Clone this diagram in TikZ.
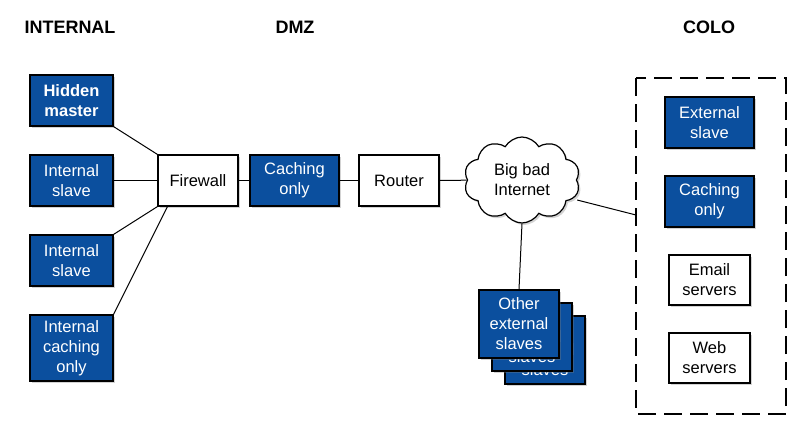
\documentclass[tikz,border=0pt]{standalone}
\usepackage{fontspec}
\setmainfont{Liberation Sans}
\usetikzlibrary{shapes.symbols,shadows}
\definecolor{dnsblue}{HTML}{0B4F9E}
\begin{document}
\begin{tikzpicture}[x=1pt,y=-1pt,
  every node/.style={font=\fontsize{16.5}{20}\selectfont,align=center,inner sep=0pt},
  box/.style={draw=black,line width=1.2pt,minimum width=#1,drop shadow={opacity=0.35,shadow xshift=2pt,shadow yshift=-2pt}},
  box/.default=83pt,
  blue/.style={box=#1,fill=dnsblue,text=white},
  blue/.default=83pt,
  white/.style={box=#1,fill=white,text=black},
  white/.default=80pt,
  head/.style={font=\fontsize{18}{21}\selectfont\bfseries},
  link/.style={line width=1pt}]
\useasboundingbox (0,0) rectangle (812,431);
\node[head] (h1) at (70,27) {INTERNAL};
\node[head] (h2) at (295,27) {DMZ};
\node[head] (h3) at (709,27) {COLO};

\node[blue,minimum height=51pt] (hm) at (71.5,100.5) {\bfseries Hidden\\\bfseries master};
\node[blue,minimum height=51pt] (is1) at (71.5,180.5) {Internal\\slave};
\node[blue,minimum height=51pt] (is2) at (71.5,260.5) {Internal\\slave};
\node[blue,minimum height=66pt] (ic) at (71.5,348) {Internal\\caching\\only};

\node[white,minimum height=51pt] (fw) at (198,180.5) {Firewall};
\node[blue=89pt,minimum height=51pt] (co) at (294.5,180.5) {Caching\\only};
\node[white,minimum height=51pt] (rt) at (399,180.5) {Router};
\node[cloud,cloud puffs=10,cloud puff arc=120,aspect=1.5,draw,line width=1.2pt,fill=white,
  minimum width=116pt,minimum height=86pt,drop shadow={opacity=0.35,shadow xshift=2pt,shadow yshift=-2pt}] (net) at (522,180) {Big bad\\Internet};

\node[blue,minimum width=80pt,minimum height=68pt] (o3) at (545,350) {Other\\external\\slaves};
\node[blue,minimum width=80pt,minimum height=68pt] (o2) at (532,337) {Other\\external\\slaves};
\node[blue,minimum width=80pt,minimum height=68pt] (o1) at (519,324) {Other\\external\\slaves};

\draw[line width=1.2pt,dash pattern=on 18pt off 8pt] (636,78) rectangle (786,414);
\coordinate (colo) at (636,215);
\node[blue=89pt,minimum height=51pt] (es) at (709.5,122.5) {External\\slave};
\node[blue=89pt,minimum height=51pt] (cc) at (709.5,201.5) {Caching\\only};
\node[white=81pt,minimum height=50pt] (em) at (709.5,280) {Email\\servers};
\node[white=81pt,minimum height=50pt] (ws) at (709.5,358) {Web\\servers};

\draw[link] (hm.south east) -- (fw.north west);
\draw[link] (is1) -- (fw);
\draw[link] (is2.north east) -- (fw.south west);
\draw[link] (ic.north east) -- ([xshift=10pt]fw.south west);
\draw[link] (fw) -- (co);
\draw[link] (co) -- (rt);
\draw[link] (rt) -- (net);
\draw[link] (net.south) -- (o1.north);
\draw[link] (net.east) ++(0,20) -- (colo);
\end{tikzpicture}
\end{document}
